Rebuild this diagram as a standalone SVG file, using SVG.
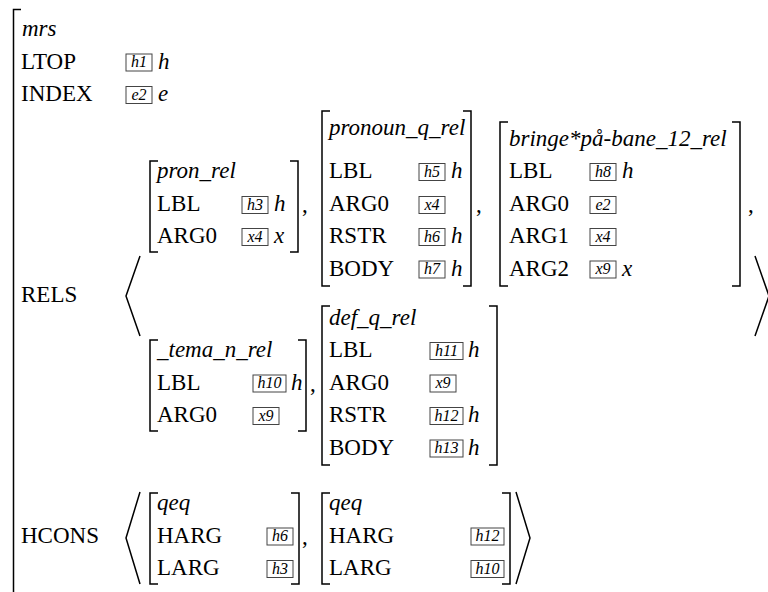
<svg xmlns="http://www.w3.org/2000/svg" width="768" height="592" viewBox="0 0 768 592">
<style>
text{font-family:"Liberation Serif","Times New Roman",serif;font-size:23px;fill:#000}
.t{font-style:italic}
.b{font-size:16px;font-style:italic;text-anchor:middle}
.bx{fill:none;stroke:#444;stroke-width:1}
.br{fill:none;stroke:#000;stroke-width:1.5}
</style>
<rect width="768" height="592" fill="#fff"/>
<g id="mrs">
<path class="br" d="M21,9.5H13.5V592"/>
<text class="t" x="22" y="36">mrs</text>
<text x="21" y="68.5">LTOP</text>
<rect class="bx" x="126" y="54" width="26" height="17"/><text class="b" x="139" y="67">h1</text><text class="t" x="158" y="68.5">h</text>
<text x="21" y="101">INDEX</text>
<rect class="bx" x="126" y="86.5" width="26" height="17"/><text class="b" x="139" y="99.5">e2</text><text class="t" x="158" y="101">e</text>
<text x="21" y="302">RELS</text>
<text x="21" y="542.5">HCONS</text>
</g>
<g id="rels-list">
<path class="br" d="M140,256L126,296L140,336"/>
<path class="br" d="M755,256L769,296L755,336"/>
<text x="302" y="212">,</text>
<text x="476" y="212">,</text>
<text x="748" y="212">,</text>
<text x="310" y="391">,</text>
</g>
<g id="pron_rel">
<path class="br" d="M158,161H150V252H158"/>
<path class="br" d="M290,161H298V252H290"/>
<text class="t" x="157" y="178">pron_rel</text>
<text x="157" y="211">LBL</text>
<rect class="bx" x="242" y="196.5" width="26" height="17"/><text class="b" x="255" y="209.5">h3</text><text class="t" x="274" y="211">h</text>
<text x="157" y="243">ARG0</text>
<rect class="bx" x="242" y="228.5" width="26" height="17"/><text class="b" x="255" y="241.5">x4</text><text class="t" x="274" y="243">x</text>
</g>
<g id="pronoun_q_rel">
<path class="br" d="M330,111H322V286H330"/>
<path class="br" d="M463,111H471V286H463"/>
<text class="t" x="329" y="135">pronoun_q_rel</text>
<text x="329" y="178">LBL</text>
<rect class="bx" x="419" y="163.5" width="26" height="17"/><text class="b" x="432" y="176.5">h5</text><text class="t" x="451" y="178">h</text>
<text x="329" y="211">ARG0</text>
<rect class="bx" x="419" y="196.5" width="26" height="17"/><text class="b" x="432" y="209.5">x4</text>
<text x="329" y="243">RSTR</text>
<rect class="bx" x="419" y="228.5" width="26" height="17"/><text class="b" x="432" y="241.5">h6</text><text class="t" x="451" y="243">h</text>
<text x="329" y="275.5">BODY</text>
<rect class="bx" x="419" y="261" width="26" height="17"/><text class="b" x="432" y="274">h7</text><text class="t" x="451" y="275.5">h</text>
</g>
<g id="bringe">
<path class="br" d="M508,122H500V286H508"/>
<path class="br" d="M732,122H740V286H732"/>
<text class="t" x="509" y="145.5">bringe*på-bane_12_rel</text>
<text x="509" y="178">LBL</text>
<rect class="bx" x="590" y="163.5" width="26" height="17"/><text class="b" x="603" y="176.5">h8</text><text class="t" x="622" y="178">h</text>
<text x="509" y="211">ARG0</text>
<rect class="bx" x="590" y="196.5" width="26" height="17"/><text class="b" x="603" y="209.5">e2</text>
<text x="509" y="243">ARG1</text>
<rect class="bx" x="590" y="228.5" width="26" height="17"/><text class="b" x="603" y="241.5">x4</text>
<text x="509" y="275.5">ARG2</text>
<rect class="bx" x="590" y="261" width="26" height="17"/><text class="b" x="603" y="274">x9</text><text class="t" x="622" y="275.5">x</text>
</g>
<g id="tema_n_rel">
<path class="br" d="M158,340H150V431H158"/>
<path class="br" d="M298,340H306V431H298"/>
<text class="t" x="157" y="357">_tema_n_rel</text>
<text x="157" y="389.5">LBL</text>
<rect class="bx" x="253" y="375" width="33" height="17"/><text class="b" x="269.5" y="388">h10</text><text class="t" x="291" y="389.5">h</text>
<text x="157" y="422">ARG0</text>
<rect class="bx" x="253" y="407.5" width="26" height="17"/><text class="b" x="266" y="420.5">x9</text>
</g>
<g id="def_q_rel">
<path class="br" d="M330,306H322V465H330"/>
<path class="br" d="M489,306H497V465H489"/>
<text class="t" x="329" y="324.5">def_q_rel</text>
<text x="329" y="357">LBL</text>
<rect class="bx" x="430" y="342.5" width="33" height="17"/><text class="b" x="446.5" y="355.5">h11</text><text class="t" x="468" y="357">h</text>
<text x="329" y="389.5">ARG0</text>
<rect class="bx" x="430" y="375" width="26" height="17"/><text class="b" x="443" y="388">x9</text>
<text x="329" y="422">RSTR</text>
<rect class="bx" x="430" y="407.5" width="33" height="17"/><text class="b" x="446.5" y="420.5">h12</text><text class="t" x="468" y="422">h</text>
<text x="329" y="454.5">BODY</text>
<rect class="bx" x="430" y="440" width="33" height="17"/><text class="b" x="446.5" y="453">h13</text><text class="t" x="468" y="454.5">h</text>
</g>
<g id="hcons-list">
<path class="br" d="M140,492L126,538L140,584"/>
<path class="br" d="M516,492L530,538L516,584"/>
<text x="302" y="544">,</text>
</g>
<g id="qeq1">
<path class="br" d="M158,493H150V584H158"/>
<path class="br" d="M291,493H299V584H291"/>
<text class="t" x="157" y="510">qeq</text>
<text x="157" y="542.5">HARG</text>
<rect class="bx" x="267" y="528" width="26" height="17"/><text class="b" x="280" y="541">h6</text>
<text x="157" y="575">LARG</text>
<rect class="bx" x="267" y="560.5" width="26" height="17"/><text class="b" x="280" y="573.5">h3</text>
</g>
<g id="qeq2">
<path class="br" d="M330,493H322V584H330"/>
<path class="br" d="M502,493H510V584H502"/>
<text class="t" x="329" y="510">qeq</text>
<text x="329" y="542.5">HARG</text>
<rect class="bx" x="471" y="528" width="33" height="17"/><text class="b" x="487.5" y="541">h12</text>
<text x="329" y="575">LARG</text>
<rect class="bx" x="471" y="560.5" width="33" height="17"/><text class="b" x="487.5" y="573.5">h10</text>
</g>
</svg>
